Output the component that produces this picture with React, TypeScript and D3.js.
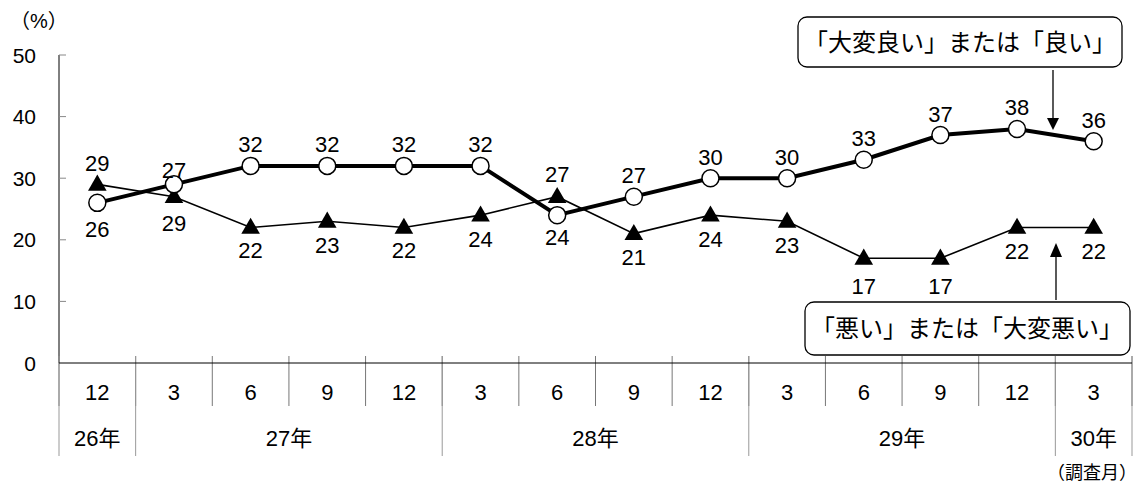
import React from 'react'
import * as d3 from 'd3'

const months = ['12', '3', '6', '9', '12', '3', '6', '9', '12', '3', '6', '9', '12', '3']
const years = [
  { label: '26年', start: 0, end: 1 },
  { label: '27年', start: 1, end: 5 },
  { label: '28年', start: 5, end: 9 },
  { label: '29年', start: 9, end: 13 },
  { label: '30年', start: 13, end: 14 },
]
const goodValues = [26, 29, 32, 32, 32, 32, 24, 27, 30, 30, 33, 37, 38, 36]
const badValues = [29, 27, 22, 23, 22, 24, 27, 21, 24, 23, 17, 17, 22, 22]
const yTicks = [0, 10, 20, 30, 40, 50]

// label offsets (px) from each point, negative = above
const goodLabelDy = [27, 39, -21, -21, -21, -21, 22, -21, -21, -21, -21, -21, -21, -21]
const badLabelDy = [-21, -26, 23, 24, 23, 24, -22, 24, 24, 24, 28, 28, 24, 24]

const goodTitle = '「大変良い」または「良い」'
const badTitle = '「悪い」または「大変悪い」'

const W = 1141
const H = 488
const left = 59
const right = 1132
const top = 55
const bottom = 363

const font = '"Liberation Sans", "Noto Sans CJK JP", sans-serif'

export default function App() {
  const x = d3.scaleBand<number>().domain(d3.range(months.length)).range([left, right]).padding(0)
  const cx = (i: number) => (x(i) as number) + x.bandwidth() / 2
  const y = d3.scaleLinear().domain([0, 50]).range([bottom, top])

  const line = d3.line<number>().x((d, i) => cx(i)).y(d => y(d))
  const tri = d3.symbol(d3.symbolTriangle, 150)()

  return (
    <svg width={W} height={H} style={{ position: 'absolute', left: 0, top: 0, fontFamily: font }}>
      <rect width={W} height={H} fill="#fff" />
      <text x={10} y={21} fontSize={20} dominantBaseline="central">（%）</text>

      {/* y axis */}
      <line x1={left} x2={left} y1={top} y2={bottom} stroke="#000" strokeWidth={1} />
      {yTicks.map(t => (
        <g key={t}>
          {t > 0 && <line x1={left} x2={left + 7} y1={y(t)} y2={y(t)} stroke="#888" />}
          <text x={36} y={y(t)} fontSize={21} textAnchor="end" dominantBaseline="central">{t}</text>
        </g>
      ))}

      {/* category table */}
      {d3.range(months.length + 1).map(i => {
        const xx = i < months.length ? (x(i) as number) : right
        return <line key={'m' + i} x1={xx} x2={xx} y1={356} y2={406} stroke="#777" />
      })}
      {years.map(yr => (
        <line key={'ys' + yr.start} x1={x(yr.start) as number} x2={x(yr.start) as number} y1={356} y2={456} stroke="#999" />
      ))}
      <line x1={right} x2={right} y1={356} y2={456} stroke="#999" />
      <line x1={left} x2={right} y1={bottom} y2={bottom} stroke="#000" strokeWidth={1} />
      {months.map((m, i) => (
        <text key={'ml' + i} x={cx(i)} y={392} fontSize={22} textAnchor="middle" dominantBaseline="central">{m}</text>
      ))}
      {years.map(yr => {
        const x0 = x(yr.start) as number
        const x1 = yr.end < months.length ? (x(yr.end) as number) : right
        return (
          <text key={'yl' + yr.start} x={(x0 + x1) / 2} y={438} fontSize={22} textAnchor="middle" dominantBaseline="central">{yr.label}</text>
        )
      })}
      <text x={1137} y={473} fontSize={18} textAnchor="end" dominantBaseline="central">（調査月）</text>

      {/* bad series */}
      <path d={line(badValues) as string} fill="none" stroke="#000" strokeWidth={1.6} />
      {badValues.map((v, i) => (
        <path key={'bt' + i} d={tri as string} transform={`translate(${cx(i)},${y(v) + 1})`} fill="#000" />
      ))}

      {/* good series */}
      <path d={line(goodValues) as string} fill="none" stroke="#000" strokeWidth={4} />
      {goodValues.map((v, i) => (
        <circle key={'gc' + i} cx={cx(i)} cy={y(v)} r={8.5} fill="#fff" stroke="#000" strokeWidth={1.5} />
      ))}

      {/* labels */}
      {badValues.map((v, i) => (
        <text key={'bl' + i} x={cx(i)} y={y(v) + badLabelDy[i]} fontSize={22} textAnchor="middle" dominantBaseline="central">{v}</text>
      ))}
      {goodValues.map((v, i) => (
        <text key={'gl' + i} x={cx(i)} y={y(v) + goodLabelDy[i]} fontSize={22} textAnchor="middle" dominantBaseline="central">{v}</text>
      ))}

      {/* callouts */}
      <rect x={798} y={17} width={324} height={50} rx={9} fill="#fff" stroke="#000" strokeWidth={1.3} />
      <text x={960} y={42} fontSize={24} textAnchor="middle" dominantBaseline="central">{goodTitle}</text>
      <line x1={1053} x2={1053} y1={70} y2={120} stroke="#000" strokeWidth={1.3} />
      <path d="M1047,118 L1059,118 L1053,130 Z" fill="#000" />

      <rect x={805} y={302} width={325} height={53} rx={9} fill="#fff" stroke="#000" strokeWidth={1.3} />
      <text x={967} y={328} fontSize={24} textAnchor="middle" dominantBaseline="central">{badTitle}</text>
      <line x1={1056} x2={1056} y1={300} y2={255} stroke="#000" strokeWidth={1.3} />
      <path d="M1050,257 L1062,257 L1056,243 Z" fill="#000" />
    </svg>
  )
}
